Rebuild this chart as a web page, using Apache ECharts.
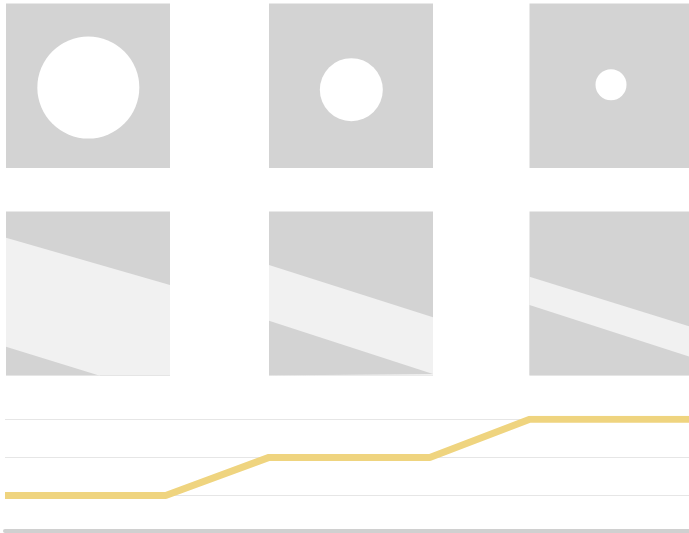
<!DOCTYPE html>
<html>
<head>
<meta charset="utf-8">
<script src="https://cdn.jsdelivr.net/npm/echarts@6/dist/echarts.min.js"></script>
<style>
	html, body { margin: 0; padding: 0; background: #fff; }
	#chart_main { width: 689px; height: 533px; }
</style>
</head>
<body>
<div id="chart_main"></div>
<script>
	// data (square units: 0..1 inside each square)
	var circleX = [0.502, 0.502, 0.511];
	var circleY = [0.489, 0.476, 0.506];
	var circleSize = [102, 63, 31];
	var bandTopStart = [0.840, 0.674, 0.602];
	var bandTopEnd = [0.552, 0.355, 0.300];
	var bandBottomStart = [0.176, 0.334, 0.430];
	var bandBottomEnd = [-0.134, 0.009, 0.116];
	var stepX = [0, 0.98, 1.61, 2.59, 3.20, 4.20];
	var stepY = [1, 1, 2, 2, 3, 3];

	// layout
	var squareLeft = [6, 269, 529.5];
	var squareGrey = '#d3d3d3';
	var bandLight = '#f1f1f1';

	function chart(){
		var myChart = echarts.init(document.getElementById('chart_main'));
		var grid = [], xAxis = [], yAxis = [], series = [];
		var i, g;

		for (i = 0; i < 6; i++) {
			grid.push({
				left: squareLeft[i % 3],
				top: i < 3 ? 3.5 : 211.5,
				width: 164,
				height: i < 3 ? 164.5 : 164,
				show: true,
				backgroundColor: squareGrey,
				borderWidth: 0
			});
			xAxis.push({ gridIndex: i, type: 'value', min: 0, max: 1, show: false });
			yAxis.push({ gridIndex: i, type: 'value', min: 0, max: 1, show: false });
		}

		// row 1: circles
		for (i = 0; i < 3; i++) {
			series.push({
				type: 'scatter',
				xAxisIndex: i,
				yAxisIndex: i,
				symbol: 'circle',
				symbolSize: function(v){ return v[2]; },
				itemStyle: { color: '#ffffff', opacity: 1 },
				silent: true,
				data: [[circleX[i], circleY[i], circleSize[i]]]
			});
		}

		// row 2: slanted bands
		for (i = 0; i < 3; i++) {
			g = i + 3;
			series.push({
				type: 'line',
				xAxisIndex: g,
				yAxisIndex: g,
				symbol: 'none',
				silent: true,
				lineStyle: { width: 0 },
				areaStyle: { color: bandLight, opacity: 1, origin: 'start' },
				data: [[0, bandTopStart[i]], [1, bandTopEnd[i]]]
			});
			series.push({
				type: 'line',
				xAxisIndex: g,
				yAxisIndex: g,
				symbol: 'none',
				silent: true,
				lineStyle: { width: 0 },
				areaStyle: { color: squareGrey, opacity: 1, origin: 'start' },
				data: [[0, bandBottomStart[i]], [1, bandBottomEnd[i]]]
			});
		}

		// bottom: step-like line
		grid.push({ left: 5, top: 419.3, width: 684, height: 76.2, borderWidth: 0 });
		xAxis.push({
			gridIndex: 6,
			type: 'value',
			min: 0,
			max: 684 / 164,
			offset: 35,
			axisLine: { show: true, lineStyle: { color: '#d0d0d0', width: 4 } },
			axisTick: { show: false },
			axisLabel: { show: false },
			splitLine: { show: false }
		});
		yAxis.push({
			gridIndex: 6,
			type: 'value',
			min: 1,
			max: 3,
			interval: 1,
			axisLine: { show: false },
			axisTick: { show: false },
			axisLabel: { show: false },
			splitLine: { show: true, lineStyle: { color: '#e6e6e6', width: 1 } }
		});
		series.push({
			type: 'line',
			xAxisIndex: 6,
			yAxisIndex: 6,
			symbol: 'none',
			silent: true,
			lineStyle: { color: '#efd47f', width: 7 },
			data: stepX.map(function(x, k){ return [x, stepY[k]]; })
		});

		option = {
			animation: false,
			grid: grid,
			xAxis: xAxis,
			yAxis: yAxis,
			series: series
		};
		myChart.setOption(option);
	};
	chart();
</script>
</body>
</html>
